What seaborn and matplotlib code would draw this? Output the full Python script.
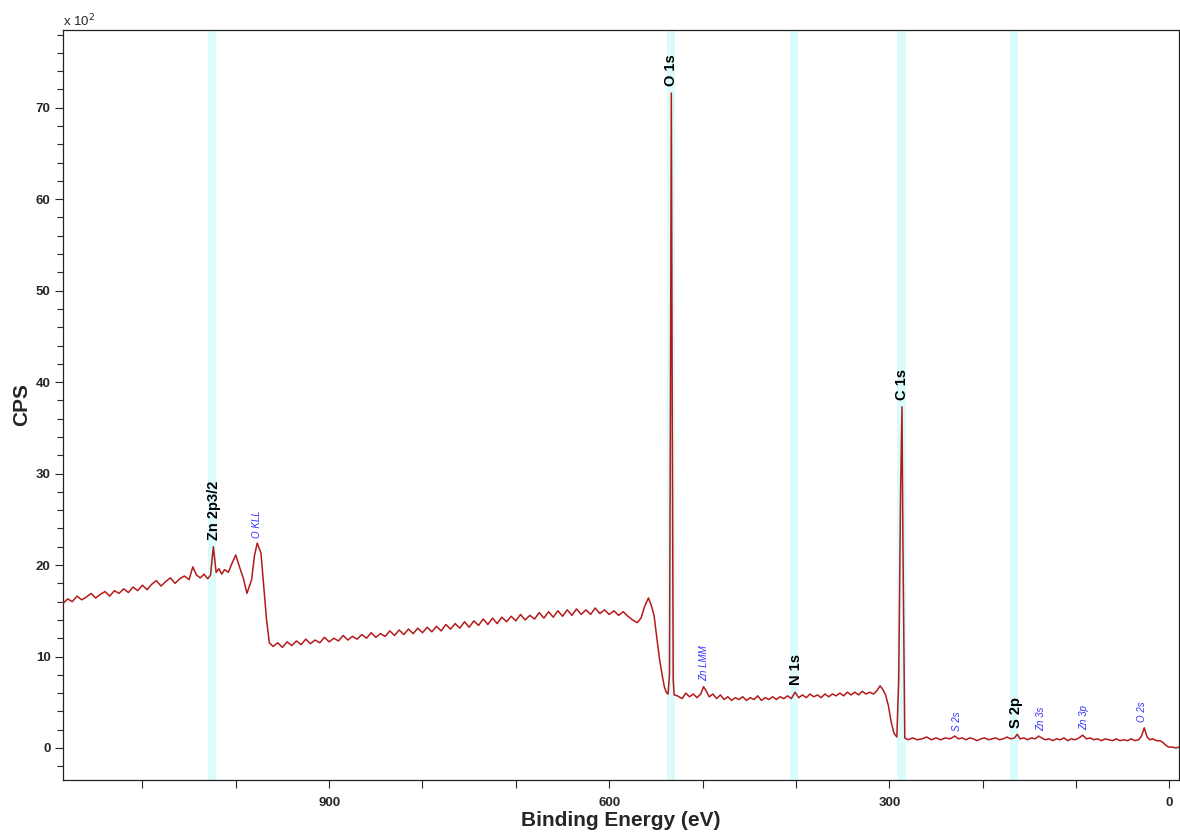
import matplotlib
matplotlib.use("Agg")
import matplotlib.pyplot as plt
import matplotlib.ticker as mticker
import seaborn as sns
import pandas as pd

# survey spectrum (binding energy in eV, counts in units of 100 CPS)
energy = [
    1185, 1180, 1175, 1170, 1165, 1160, 1155, 1150, 1145, 1140, 1135, 1130, 1125, 1120,
    1115, 1110, 1105, 1100, 1095, 1090, 1085, 1080, 1075, 1070, 1065, 1060, 1055, 1050,
    1046, 1042, 1038, 1034, 1030, 1027, 1024, 1021, 1018, 1015, 1012, 1008, 1004, 1000,
    996, 992, 988, 983, 980, 977, 973, 970, 967, 964,
    960, 955, 950, 945, 940, 935, 930, 925, 920, 915, 910, 905, 900, 895, 890, 885, 880,
    875, 870, 865, 860, 855, 850, 845, 840, 835, 830, 825, 820, 815, 810, 805, 800, 795,
    790, 785, 780, 775, 770, 765, 760, 755, 750, 745, 740, 735, 730, 725, 720, 715, 710,
    705, 700, 695, 690, 685, 680, 675, 670, 665, 660, 655, 650, 645, 640, 635, 630, 625,
    620, 615, 610, 605, 600, 595, 590, 585, 580, 575, 570, 566, 562, 558, 555, 552, 549,
    546, 543, 541, 539, 537, 535.5, 534.5, 533.5, 532.5, 531.5, 530.5,
    527, 522, 518, 514, 510, 506, 502, 499, 496, 493, 489, 485, 481, 477, 473, 469, 465,
    461, 457, 453, 449, 445, 441, 437, 433, 429, 425, 421, 417, 413, 409, 405, 401, 397,
    393, 389, 385, 381, 377, 373, 369, 365, 361, 357, 353, 349, 345, 341, 337, 333, 329,
    325, 321, 317, 313, 310, 307, 304, 301, 298, 295, 292, 290, 288, 286.5, 285.5, 284.5,
    283.5,
    280, 275, 270, 265, 260, 255, 250, 245, 240, 235, 230, 226, 222, 218, 214, 210, 206,
    202, 198, 194, 190, 186, 182, 178, 174, 170, 166, 163, 160, 156, 152, 148, 144, 140,
    137, 133, 129, 125, 121, 117, 113, 109, 105, 101, 97, 93, 89, 85, 81, 77, 73, 69, 65,
    61, 57, 53, 49, 45, 41, 37, 33, 30, 27, 24, 21, 18, 14, 10, 7, 4, 1, -3, -7, -10,
]
counts = [
    15.8, 16.3, 16.0, 16.6, 16.2, 16.5, 16.9, 16.4, 16.8, 17.1, 16.6, 17.2, 16.9, 17.4,
    17.0, 17.6, 17.2, 17.8, 17.3, 17.9, 18.3, 17.7, 18.2, 18.6, 18.0, 18.5, 18.8, 18.4,
    19.8, 18.9, 18.6, 19.0, 18.5, 18.9, 22.0, 19.2, 19.6, 19.0, 19.5, 19.2, 20.2, 21.1,
    19.8, 18.6, 16.9, 18.4, 21.0, 22.4, 21.3, 17.6, 14.0, 11.5,
    11.1, 11.5, 11.0, 11.6, 11.2, 11.7, 11.3, 11.9, 11.4, 11.8, 11.5, 12.1, 11.6, 12.0, 11.7, 12.3, 11.8,
    12.2, 11.9, 12.4, 12.0, 12.6, 12.1, 12.5, 12.2, 12.8, 12.3, 12.9, 12.4, 13.0, 12.5, 13.1, 12.6, 13.2,
    12.7, 13.3, 12.8, 13.5, 13.0, 13.6, 13.1, 13.8, 13.2, 13.9, 13.4, 14.1, 13.5, 14.2, 13.6, 14.3, 13.8,
    14.4, 13.9, 14.6, 14.0, 14.5, 14.1, 14.8, 14.2, 14.9, 14.3, 15.0, 14.4, 15.1, 14.5, 15.2, 14.6, 15.1,
    14.6, 15.3, 14.7, 15.1, 14.6, 15.0, 14.5, 14.9, 14.4, 14.0, 13.7, 14.2, 15.5, 16.4, 15.6, 14.5, 12.0,
    9.6, 7.8, 6.7, 6.1, 5.9, 8.0, 36.5, 71.6, 36.0, 7.5, 5.8,
    5.7, 5.4, 6.0, 5.6, 5.9, 5.5, 5.9, 6.7, 6.2, 5.6, 5.9, 5.4, 5.8, 5.3, 5.6, 5.2, 5.5,
    5.3, 5.6, 5.2, 5.5, 5.3, 5.7, 5.2, 5.5, 5.3, 5.6, 5.3, 5.6, 5.4, 5.7, 5.4, 6.1, 5.5,
    5.8, 5.5, 5.9, 5.6, 5.8, 5.5, 5.9, 5.6, 5.9, 5.7, 6.0, 5.7, 6.1, 5.8, 6.1, 5.8, 6.2,
    5.9, 6.1, 5.9, 6.3, 6.8, 6.4, 5.8, 4.6, 2.8, 1.6, 1.2, 7.4, 27.9, 37.3, 22.7, 12.1,
    1.1,
    0.9, 1.1, 0.9, 1.0, 1.2, 0.9, 1.1, 0.9, 1.1, 1.0, 1.3, 1.0, 1.1, 0.9, 1.1, 1.0, 0.8,
    1.0, 1.1, 0.9, 1.0, 1.1, 0.9, 1.0, 1.2, 1.0, 1.1, 1.5, 1.0, 1.1, 0.9, 1.1, 1.0, 1.3,
    1.1, 0.9, 1.0, 0.8, 1.0, 0.9, 1.1, 0.8, 1.0, 0.9, 1.1, 1.4, 1.0, 1.1, 0.9, 1.0, 0.8, 1.0, 0.9,
    0.8, 1.0, 0.8, 0.9, 0.8, 1.0, 0.8, 0.9, 1.3, 2.2, 1.2, 0.9, 1.0, 0.8, 0.8, 0.6, 0.3, 0.1, 0.1, 0.0, 0.1,
]

# identified peaks (black labels, with highlighted regions)
peak_names = ["Zn 2p3/2", "O 1s", "N 1s", "C 1s", "S 2p"]
peak_energy = [1023, 533.5, 400, 287, 164]
peak_height = [22.0, 71.6, 6.1, 37.3, 1.4]
band_center = [1025, 533.5, 402, 287, 166]

# Auger / minor lines (blue labels)
minor_names = ["O KLL", "Zn LMM", "S 2s", "Zn 3s", "Zn 3p", "O 2s"]
minor_energy = [977, 498, 228, 137, 91, 29]
minor_height = [22.4, 6.7, 1.2, 1.3, 1.4, 2.2]

df = pd.DataFrame({"Binding Energy": energy, "CPS": counts})

sns.set_style("ticks")
plt.rcParams["font.family"] = ["Liberation Sans", "DejaVu Sans"]

fig = plt.figure(figsize=(11.8, 8.32), dpi=100)
ax = fig.add_axes([0.0534, 0.0625, 0.9456, 0.9015])

for c in band_center:
    ax.axvspan(c + 4.3, c - 4.3, color="#dcfbfb", lw=0, zorder=0)

sns.lineplot(data=df, x="Binding Energy", y="CPS", sort=False, estimator=None,
             color="#b51a1a", lw=1.1, ax=ax, zorder=3)

for name, e, h in zip(peak_names, peak_energy, peak_height):
    ax.annotate(name, xy=(e, h), xytext=(0, 5), textcoords="offset points",
                rotation=90, ha="center", va="bottom", fontsize=10.5,
                fontweight="bold", color="black")

for name, e, h in zip(minor_names, minor_energy, minor_height):
    ax.annotate(name, xy=(e, h), xytext=(0, 4), textcoords="offset points",
                rotation=90, ha="center", va="bottom", fontsize=7,
                style="italic", color="#3333ff")

ax.set_xlim(1185, -10)
ax.set_ylim(-3.5, 78.5)
ax.xaxis.set_major_locator(mticker.MultipleLocator(300))
ax.xaxis.set_minor_locator(mticker.MultipleLocator(100))
ax.yaxis.set_major_locator(mticker.MultipleLocator(10))
ax.yaxis.set_minor_locator(mticker.MultipleLocator(2))
ax.tick_params(axis="x", which="both", direction="out", length=6, width=0.8,
               labelsize=9.5, pad=6)
ax.tick_params(axis="y", which="major", direction="out", length=6, width=0.8,
               labelsize=9.5, pad=3)
ax.tick_params(axis="y", which="minor", direction="out", length=4, width=0.8)
for lab in ax.get_xticklabels() + ax.get_yticklabels():
    lab.set_fontweight("bold")

for s in ax.spines.values():
    s.set_linewidth(0.9)
    s.set_color("#222222")

ax.set_xlabel("Binding Energy (eV)", fontsize=15, fontweight="bold", labelpad=2)
ax.set_ylabel("CPS", fontsize=15, fontweight="bold", labelpad=3)
fig.text(0.0534, 0.965, r"x 10$^2$", fontsize=9.5, ha="left", va="bottom")

fig.savefig("out.png", dpi=100)
